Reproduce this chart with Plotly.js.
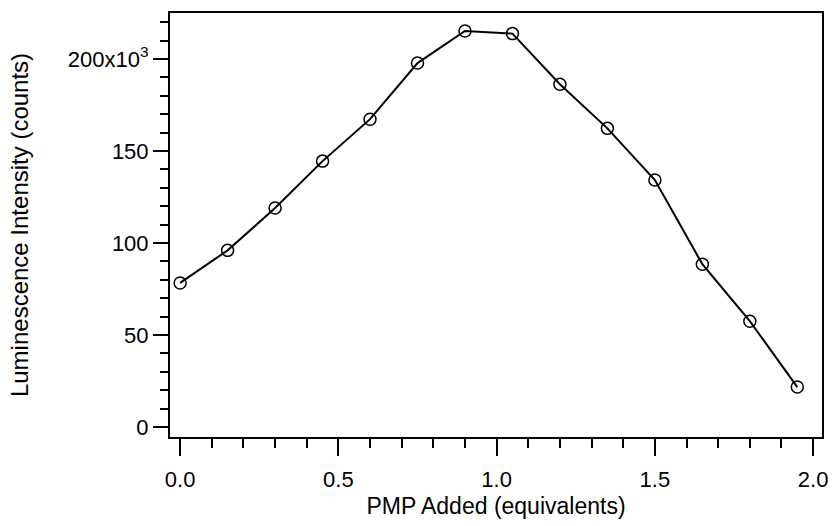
<!DOCTYPE html>
<html>
<head>
<meta charset="utf-8">
<script src="https://cdn.plot.ly/plotly-3.0.1.min.js"></script>
<style>html,body{margin:0;padding:0;background:#fff;}#chart{width:832px;height:526px;}</style>
</head>
<body>
<div id="chart"></div>
<script>
// PMP added (equivalents)
var pmpAdded = [0, 0.15, 0.3, 0.45, 0.6, 0.75, 0.9, 1.05, 1.2, 1.35, 1.5, 1.65, 1.8, 1.95];
// Luminescence intensity (counts)
var luminescence = [78300, 96000, 119000, 144500, 167300, 197800, 215200, 213800, 186300, 162300, 134200, 88500, 57500, 21700];
var yTickVals = [0, 50000, 100000, 150000, 200000];
var yTickText = ['0', '50', '100', '150', '200x10<sup>3</sup>'];
var xTickVals = [0, 0.5, 1.0, 1.5, 2.0];
var xTickText = ['0.0', '0.5', '1.0', '1.5', '2.0'];

var fontFam = '"Liberation Sans", Arial, sans-serif';
var trace = {
  x: pmpAdded, y: luminescence, type: 'scatter', mode: 'lines+markers',
  line: {color: '#000', width: 2},
  marker: {symbol: 'circle-open', size: 12, color: '#000', line: {width: 1.5, color: '#000'}},
  showlegend: false
};
var layout = {
  width: 832, height: 526,
  margin: {l: 170, r: 10, t: 13, b: 89},
  paper_bgcolor: '#fff', plot_bgcolor: '#fff',
  font: {family: fontFam, color: '#000', size: 22},
  xaxis: {
    range: [-0.032, 2.028], showgrid: false, zeroline: false,
    showline: true, linecolor: '#000', linewidth: 2, mirror: true,
    ticks: 'outside', ticklen: 17, tickwidth: 2, tickcolor: '#000',
    tickvals: xTickVals, ticktext: xTickText, ticklabelstandoff: 5,
    tickfont: {size: 22},
    minor: {dtick: 0.1, ticklen: 9, tickwidth: 2, tickcolor: '#000', ticks: 'outside', showgrid: false},
    title: {text: 'PMP Added (equivalents)', font: {size: 23}, standoff: 6}
  },
  yaxis: {
    range: [-5430, 225000], showgrid: false, zeroline: false,
    showline: true, linecolor: '#000', linewidth: 2, mirror: true,
    ticks: 'outside', ticklen: 15, tickwidth: 2, tickcolor: '#000',
    tickvals: yTickVals, ticktext: yTickText, ticklabelstandoff: 0,
    tickfont: {size: 22},
    minor: {dtick: 10000, ticklen: 8, tickwidth: 2, tickcolor: '#000', ticks: 'outside', showgrid: false},
    title: {text: 'Luminescence Intensity (counts)', font: {size: 24}, standoff: 32}
  }
};
Plotly.newPlot('chart', [trace], layout, {displayModeBar: false, staticPlot: true});
</script>
</body>
</html>
